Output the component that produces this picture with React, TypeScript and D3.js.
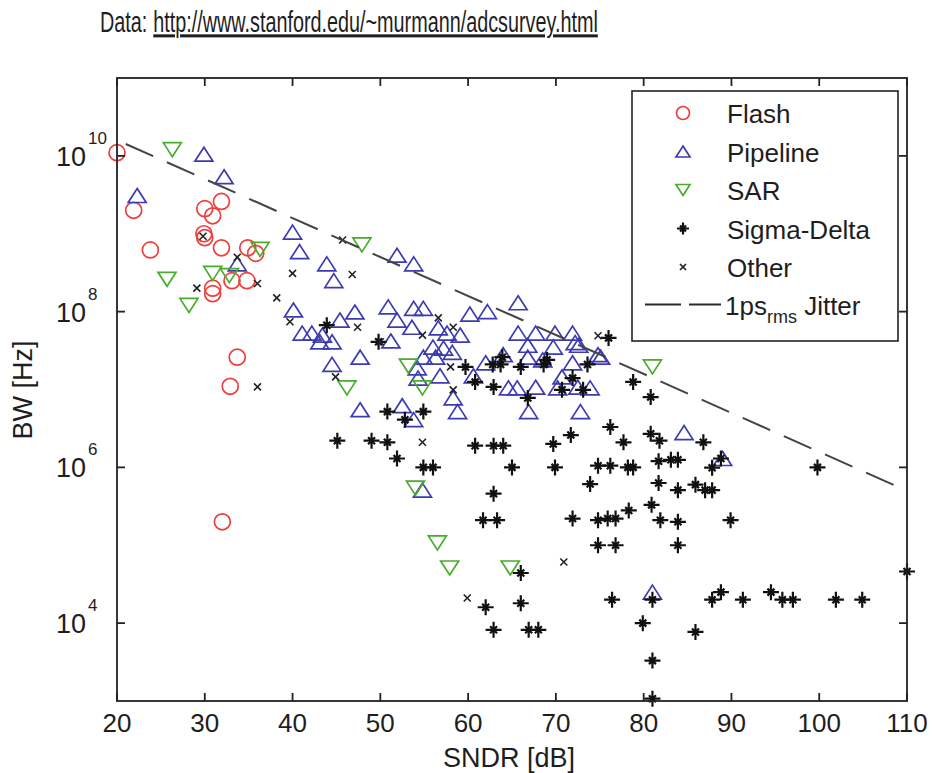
import React, { useEffect, useRef } from "react";
import * as d3 from "d3";

// [SNDR dB, BW Hz]
const flash: [number, number][] = [
  [20.0, 1.1e10], [21.9, 2.0e9], [23.8, 6.2e8], [31.9, 2.6e9], [30.0, 2.1e9],
  [30.9, 1.7e9], [29.9, 1.0e9], [30.0, 8.9e8], [31.9, 6.6e8], [34.9, 6.6e8],
  [35.8, 5.6e8], [33.1, 2.5e8], [34.8, 2.5e8], [30.9, 2.0e8], [30.9, 1.7e8],
  [33.7, 2.6e7], [32.9, 1.1e7], [32.0, 2.0e5]
];

const pipeline: [number, number][] = [
  [22.3, 3.1e9], [29.9, 1.05e10], [32.2, 5.4e9], [40.0, 1.05e9], [40.8, 5.9e8],
  [33.7, 4.1e8], [43.9, 4.1e8], [44.7, 2.5e8], [51.9, 5.3e8], [53.8, 4.1e8],
  [40.1, 1.05e8], [41.1, 5.3e7], [42.2, 5.3e7], [43.4, 5.0e7], [43.1, 4.1e7],
  [44.5, 4.1e7], [45.4, 7.8e7], [47.1, 9.9e7], [44.5, 2.1e7], [47.7, 2.6e7],
  [47.7, 5.5e6], [50.9, 1.15e8], [53.8, 1.1e8], [54.9, 1.1e8], [51.9, 7.8e7],
  [53.6, 6.3e7], [51.2, 4.2e7], [56.6, 6.2e7], [57.6, 5.3e7], [59.1, 5.0e7],
  [60.2, 9.3e7], [62.2, 1.0e8], [65.7, 1.3e8], [56.0, 3.5e7], [57.2, 3.4e7],
  [58.2, 3.0e7], [54.9, 2.6e7], [56.3, 2.6e7], [54.2, 1.9e7], [56.8, 1.5e7],
  [54.3, 1.4e7], [58.3, 7.8e6], [58.8, 5.2e6], [52.5, 6.2e6], [53.8, 4.1e6],
  [65.7, 5.3e7], [67.7, 5.3e7], [69.9, 5.3e7], [71.9, 5.3e7], [72.6, 3.7e7],
  [66.8, 3.7e7], [69.7, 3.5e7], [64.0, 2.8e7], [66.8, 2.6e7], [68.5, 2.4e7],
  [71.9, 2.2e7], [74.8, 2.8e7], [62.0, 2.2e7], [60.6, 1.5e7], [64.6, 1.05e7],
  [65.6, 1.05e7], [67.7, 1.07e7], [70.2, 1.05e7], [72.5, 1.07e7], [73.9, 1.05e7],
  [70.7, 1.45e7], [66.9, 5.2e6], [72.8, 5.2e6], [72.2, 4.0e7], [75.1, 2.6e7],
  [84.6, 2.8e6], [89.0, 1.3e6], [81.0, 2.5e4], [54.8, 5.1e5]
];

const sar: [number, number][] = [
  [26.3, 1.2e10], [36.3, 6.3e8], [30.9, 3.1e8], [32.8, 2.9e8], [25.7, 2.6e8],
  [28.2, 1.2e8], [47.9, 7.2e8], [46.2, 1.05e7], [53.2, 2.0e7], [54.8, 1.05e7],
  [54.0, 5.4e5], [56.5, 1.07e5], [57.9, 5.1e4], [64.8, 5.1e4], [81.0, 1.95e7]
];

const sigmaDelta: [number, number][] = [
  [43.9, 6.7e7], [49.8, 4.1e7], [59.7, 1.95e7], [62.8, 2.1e7], [63.7, 2.1e7],
  [63.9, 2.6e7], [66.0, 1.95e7], [68.6, 2.1e7], [69.0, 2.4e7], [73.6, 2.1e7],
  [60.8, 1.25e7], [62.9, 1.08e7], [66.8, 7.8e6], [71.9, 1.4e7], [70.7, 9.9e6],
  [73.1, 9.9e6], [76.0, 4.6e7], [78.8, 1.25e7], [80.8, 8.0e6], [50.8, 5.2e6],
  [52.8, 4.1e6], [54.9, 5.2e6], [50.8, 2.1e6], [51.9, 1.3e6], [54.9, 1.0e6],
  [56.0, 1.0e6], [60.8, 1.9e6], [62.9, 1.9e6], [64.0, 1.9e6], [65.0, 1.0e6],
  [69.7, 2.0e6], [71.7, 2.6e6], [69.9, 1.0e6], [76.2, 3.3e6], [77.7, 2.1e6],
  [73.9, 6.1e5], [62.9, 4.6e5], [61.7, 2.1e5], [63.3, 2.1e5], [74.8, 1.05e6],
  [76.2, 1.05e6], [78.2, 1.0e6], [78.8, 1.0e6], [80.8, 2.7e6], [81.8, 2.2e6],
  [81.7, 1.2e6], [83.1, 1.25e6], [83.9, 1.25e6], [81.7, 6.3e5], [83.9, 5.1e5],
  [85.9, 6.0e5], [87.0, 5.1e5], [87.8, 5.1e5], [80.9, 3.3e5], [71.9, 2.2e5],
  [74.8, 2.1e5], [75.9, 2.2e5], [76.8, 2.2e5], [78.3, 2.8e5], [74.8, 1.0e5],
  [76.8, 1.0e5], [81.9, 2.1e5], [83.9, 2.0e5], [83.9, 1.0e5], [89.9, 2.1e5],
  [66.0, 4.4e4], [66.0, 1.8e4], [62.0, 1.6e4], [62.9, 8.2e3], [66.9, 8.2e3],
  [68.0, 8.2e3], [76.4, 2.0e4], [81.0, 2.0e4], [79.9, 1.0e4], [81.0, 3.3e3],
  [81.0, 1.07e3], [85.9, 7.7e3], [87.8, 2.0e4], [88.8, 2.5e4], [91.3, 2.0e4],
  [94.5, 2.5e4], [95.8, 2.0e4], [97.0, 2.0e4], [101.9, 2.0e4], [104.9, 2.0e4],
  [110.0, 4.6e4], [86.8, 2.1e6], [87.8, 9.9e5], [99.8, 1.0e6], [88.8, 1.3e6],
  [45.1, 2.2e6], [49.0, 2.2e6]
];

const other: [number, number][] = [
  [29.8, 9.3e8], [33.7, 5.0e8], [29.1, 2.0e8], [36.0, 2.3e8], [38.2, 1.5e8],
  [40.0, 3.1e8], [45.7, 8.3e8], [46.8, 3.0e8], [36.0, 1.08e7], [39.7, 7.4e7],
  [47.4, 6.3e7], [54.8, 5.0e7], [56.6, 8.3e7], [58.3, 6.3e7], [74.8, 4.9e7],
  [58.0, 1.95e7], [58.3, 9.9e6], [50.0, 4.1e7], [54.8, 2.1e6], [70.9, 6.1e4],
  [59.9, 2.1e4], [44.9, 1.45e7]
];

// 1 ps rms jitter limit, end points
const jitter: [number, number][] = [[21, 1.42e10], [110, 5.0e5]];

const xTicks = [20, 30, 40, 50, 60, 70, 80, 90, 100, 110];
const yTicks = [1e4, 1e6, 1e8, 1e10];
const legendLabels = ["Flash", "Pipeline", "SAR", "Sigma-Delta", "Other"];

export default function App() {
  const svgRef = useRef<SVGSVGElement>(null);

  useEffect(() => {
    document.body.style.margin = "0";
    const width = 934;
    const height = 773;
    const left = 117, right = 907, top = 78, bottom = 701;
    const font = "'Liberation Sans', Arial, sans-serif";
    const ink = "#1e1e1e";

    const red = "#ee3e3e";
    const blue = "#3c3cb0";
    const green = "#4aac2c";

    const svg = d3.select(svgRef.current)
      .attr("width", width)
      .attr("height", height)
      .attr("viewBox", [0, 0, width, height])
      .style("display", "block")
      .style("background", "#fff");

    svg.selectAll("*").remove();

    const x = d3.scaleLinear().domain([20, 110]).range([left, right]);
    const y = d3.scaleLog().domain([1e3, 1e11]).range([bottom, top]);

    // Title: measured, then squeezed horizontally to the original's narrow width
    const gTitle = svg.append("g");
    const t1 = gTitle.append("text")
      .attr("x", 0).attr("y", 0)
      .attr("font-family", font).attr("font-size", 30).attr("fill", ink)
      .text("Data:");
    const w1 = (t1.node() as SVGTextElement).getComputedTextLength();
    const t2 = gTitle.append("text")
      .attr("x", w1 + 9).attr("y", 0)
      .attr("font-family", font).attr("font-size", 30).attr("fill", ink)
      .attr("text-decoration", "underline")
      .text("http://www.stanford.edu/~murmann/adcsurvey.html");
    const w2 = (t2.node() as SVGTextElement).getComputedTextLength();
    const squeeze = 498 / (w1 + 9 + w2);
    gTitle.attr("transform", `translate(100,32) scale(${squeeze},1)`);

    // Markers
    const gMarks = svg.append("g");
    const tri = "M0,-7L9,7L-9,7Z";
    const triDown = "M0,7L9,-7L-9,-7Z";
    const star = "M-8,0H8M0,-8V8M-3.5,-3.5L3.5,3.5M-3.5,3.5L3.5,-3.5";
    const cross = "M-3.5,-3.5L3.5,3.5M-3.5,3.5L3.5,-3.5";

    gMarks.append("g").selectAll("circle").data(flash).join("circle")
      .attr("cx", d => x(d[0])).attr("cy", d => y(d[1])).attr("r", 8)
      .attr("fill", "none").attr("stroke", red).attr("stroke-width", 1.7);

    gMarks.append("g").selectAll("path").data(pipeline).join("path")
      .attr("transform", d => `translate(${x(d[0])},${y(d[1])})`)
      .attr("d", tri)
      .attr("fill", "none").attr("stroke", blue).attr("stroke-width", 1.7);

    gMarks.append("g").selectAll("path").data(sar).join("path")
      .attr("transform", d => `translate(${x(d[0])},${y(d[1])})`)
      .attr("d", triDown)
      .attr("fill", "none").attr("stroke", green).attr("stroke-width", 1.7);

    gMarks.append("g").selectAll("path").data(sigmaDelta).join("path")
      .attr("transform", d => `translate(${x(d[0])},${y(d[1])})`)
      .attr("d", star)
      .attr("fill", "none").attr("stroke", "#111").attr("stroke-width", 2.2);

    gMarks.append("g").selectAll("path").data(other).join("path")
      .attr("transform", d => `translate(${x(d[0])},${y(d[1])})`)
      .attr("d", cross)
      .attr("fill", "none").attr("stroke", "#222").attr("stroke-width", 1.6);

    // Jitter line
    const line = d3.line<[number, number]>().x(d => x(d[0])).y(d => y(d[1]));
    svg.append("path")
      .datum(jitter)
      .attr("d", line)
      .attr("fill", "none")
      .attr("stroke", "#444")
      .attr("stroke-width", 2)
      .attr("stroke-dasharray", "30,15");

    // Frame and ticks (inward)
    const gAxes = svg.append("g").attr("stroke", "#222").attr("stroke-width", 1.8);
    gAxes.append("rect")
      .attr("x", left).attr("y", top)
      .attr("width", right - left).attr("height", bottom - top)
      .attr("fill", "none");

    xTicks.forEach(t => {
      gAxes.append("line").attr("x1", x(t)).attr("x2", x(t)).attr("y1", bottom).attr("y2", bottom - 8);
      gAxes.append("line").attr("x1", x(t)).attr("x2", x(t)).attr("y1", top).attr("y2", top + 8);
    });
    yTicks.forEach(t => {
      gAxes.append("line").attr("x1", left).attr("x2", left + 8).attr("y1", y(t)).attr("y2", y(t));
      gAxes.append("line").attr("x1", right).attr("x2", right - 8).attr("y1", y(t)).attr("y2", y(t));
    });

    // Tick labels
    svg.append("g")
      .attr("font-family", font).attr("font-size", 26).attr("fill", ink)
      .attr("text-anchor", "middle")
      .selectAll("text").data(xTicks).join("text")
      .attr("x", d => x(d)).attr("y", 732)
      .text(d => d);

    const gY = svg.append("g").attr("font-family", font).attr("fill", ink);
    yTicks.forEach(t => {
      gY.append("text")
        .attr("x", 86).attr("y", y(t) + 10)
        .attr("font-size", 27).attr("text-anchor", "end")
        .text("10");
      gY.append("text")
        .attr("x", 88).attr("y", y(t) - 12)
        .attr("font-size", 17)
        .text(Math.round(Math.log10(t)));
    });

    // Axis titles
    svg.append("text")
      .attr("x", 509).attr("y", 767)
      .attr("font-family", font).attr("font-size", 27).attr("fill", ink)
      .attr("text-anchor", "middle")
      .text("SNDR [dB]");
    svg.append("text")
      .attr("transform", "translate(32,390) rotate(-90)")
      .attr("font-family", font).attr("font-size", 27).attr("fill", ink)
      .attr("text-anchor", "middle")
      .text("BW [Hz]");

    // Legend
    const lg = svg.append("g");
    lg.append("rect")
      .attr("x", 632).attr("y", 91).attr("width", 266).attr("height", 250)
      .attr("fill", "#fff").attr("stroke", "#222").attr("stroke-width", 1.6);

    const rowY = (i: number) => 113 + i * 38.5;
    const mx = 683;
    const tx = 727;
    const styles = [
      { d: null, color: red },
      { d: "M0,-5.5L7,5.5L-7,5.5Z", color: blue },
      { d: "M0,5.5L7,-5.5L-7,-5.5Z", color: green },
      { d: "M-6,0H6M0,-6V6M-3,-3L3,3M-3,3L3,-3", color: "#111" },
      { d: "M-3,-3L3,3M-3,3L3,-3", color: "#222" }
    ];
    legendLabels.forEach((label, i) => {
      const s = styles[i];
      if (s.d === null) {
        lg.append("circle").attr("cx", mx).attr("cy", rowY(i)).attr("r", 6.5)
          .attr("fill", "none").attr("stroke", s.color).attr("stroke-width", 1.7);
      } else {
        lg.append("path").attr("transform", `translate(${mx},${rowY(i)})`)
          .attr("d", s.d).attr("fill", "none").attr("stroke", s.color)
          .attr("stroke-width", i === 3 ? 2.2 : 1.7);
      }
      lg.append("text")
        .attr("x", tx).attr("y", rowY(i) + 10)
        .attr("font-family", font).attr("font-size", 26).attr("fill", ink)
        .text(label);
    });

    const jy = rowY(5) - 1;
    lg.append("line")
      .attr("x1", 645).attr("x2", 721).attr("y1", jy).attr("y2", jy)
      .attr("stroke", "#2a2a2a").attr("stroke-width", 2)
      .attr("stroke-dasharray", "36,8");
    const jt = lg.append("text")
      .attr("x", tx - 2).attr("y", jy + 10)
      .attr("font-family", font).attr("font-size", 26).attr("fill", ink);
    jt.append("tspan").text("1ps");
    jt.append("tspan").attr("font-size", 18).attr("dy", 8).text("rms");
    jt.append("tspan").attr("dy", -8).text(" Jitter");

    return () => {
      d3.select(svgRef.current).selectAll("*").remove();
    };
  }, []);

  return <svg ref={svgRef} />;
}
